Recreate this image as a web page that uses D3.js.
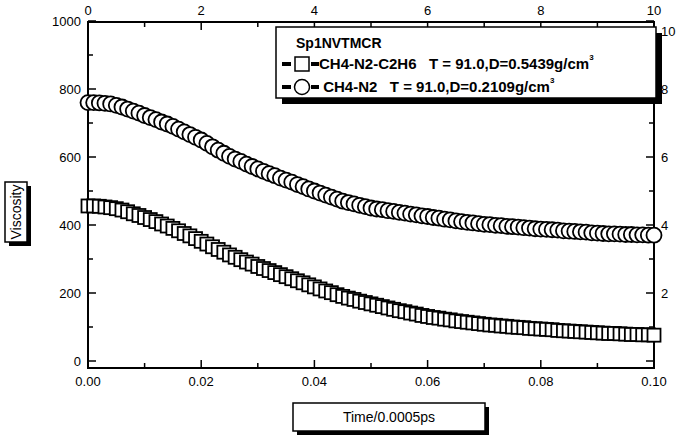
<!DOCTYPE html>
<html><head><meta charset="utf-8">
<script src="https://cdn.jsdelivr.net/npm/d3@7"></script>
<style>body{margin:0;background:#fff}svg{font-family:"Liberation Sans",Arial,sans-serif}</style>
</head><body><svg id="c" width="679" height="441"></svg>
<script>
const circleValues=[760,760,759,758,756,752,747,741,735,729,722,716,710,703,697,690,682,674,666,658,650,640,630,620,611,602,594,587,579,572,565,558,551,545,538,532,526,519,513,506,500,494,488,482,476,470,466,462,458,454,450,447,445,442,440,437,435,432,430,427,425,422,420,417,415,412,410,408,406,404,402,401,399,398,396,395,394,392,391,389,388,387,386,385,383,382,381,380,379,377,376,375,374,374,373,372,372,371,371,370,370];
const squareValues=[456,456,455,453,451,448,444,439,433,428,422,416,410,403,397,390,383,375,368,360,352,344,336,328,320,312,305,298,291,285,278,272,266,260,254,248,242,236,230,224,218,212,206,201,195,190,185,181,176,172,168,164,160,156,152,148,145,141,138,134,131,128,126,123,121,118,116,114,112,110,108,106,105,103,102,100,99,98,96,95,94,93,92,90,89,88,87,86,85,84,83,82,81,81,80,79,78,78,77,77,76];
const bottomTicks=[0,0.02,0.04,0.06,0.08,0.1];
const leftTicks=[0,200,400,600,800,1000];
const topTicks=[0,2,4,6,8,10];
const rightTicks=[2,4,6,8,10];
const legendTitle="Sp1NVTMCR";
const legendRows=[{name:"CH4-N2-C2H6   T = 91.0,D=0.5439g/cm",sym:"square"},{name:" CH4-N2   T = 91.0,D=0.2109g/cm",sym:"circle"}];

const svg=d3.select("#c");
const L=88,R=654,T=22,B=368;
const x=d3.scaleLinear().domain([0,0.1]).range([L,R]);
const y=d3.scaleLinear().domain([0,1000]).range([361,21]);
const xt=d3.scaleLinear().domain([0,10]).range([L,R]);
const yr=d3.scaleLinear().domain([0,10]).range([361,21]);
const times=a=>a.map((v,i)=>[i*0.1/(a.length-1),v]);

svg.append("rect").attr("x",L).attr("y",T).attr("width",R-L).attr("height",B-T).attr("fill","none").attr("stroke","#000").attr("stroke-width",2);
const tk=(x1,y1,x2,y2)=>svg.append("line").attr("x1",x1).attr("y1",y1).attr("x2",x2).attr("y2",y2).attr("stroke","#000").attr("stroke-width",1.5);
d3.range(0,0.1001,0.01).forEach((v,i)=>tk(x(v),B,x(v),B-(i%2?5:8)));
bottomTicks.forEach(v=>svg.append("text").attr("x",x(v)).attr("y",B+18).attr("text-anchor","middle").attr("font-size",13).text(d3.format(".2f")(v)));
d3.range(0,10.01,1).forEach((v,i)=>tk(xt(v),T,xt(v),T+(i%2?5:8)));
topTicks.forEach(v=>svg.append("text").attr("x",xt(v)).attr("y",T-7).attr("text-anchor","middle").attr("font-size",13).text(v));
d3.range(0,1001,100).forEach((v,i)=>tk(L,y(v),L+(i%2?5:8),y(v)));
leftTicks.forEach(v=>svg.append("text").attr("x",L-7).attr("y",y(v)+5).attr("text-anchor","end").attr("font-size",13).text(v));
d3.range(0,10.01,1).forEach((v,i)=>tk(R,yr(v),R-(i%2?5:8),yr(v)));
rightTicks.forEach(v=>svg.append("text").attr("x",R+7).attr("y",yr(v)+5+(v==10?10:0)).attr("font-size",13).text(v));

const sq=svg.append("g");
times(squareValues).forEach(d=>sq.append("rect").attr("x",x(d[0])-6.5).attr("y",y(d[1])-6.5).attr("width",13).attr("height",13).attr("fill","#fff").attr("stroke","#000").attr("stroke-width",1.8));
const ci=svg.append("g");
times(circleValues).forEach(d=>ci.append("circle").attr("cx",x(d[0])).attr("cy",y(d[1])).attr("r",7.5).attr("fill","#fff").attr("stroke","#000").attr("stroke-width",1.8));

const lg=svg.append("g");
lg.append("rect").attr("x",282).attr("y",33).attr("width",380).attr("height",71).attr("fill","#000");
lg.append("rect").attr("x",276).attr("y",27).attr("width",380).attr("height",71).attr("fill","#fff").attr("stroke","#000").attr("stroke-width",1.5);
lg.append("text").attr("x",296).attr("y",48).attr("font-size",14).attr("font-weight","bold").text(legendTitle);
legendRows.forEach((r,i)=>{
  const cy=64+i*23;
  lg.append("rect").attr("x",282).attr("y",cy-2).attr("width",9).attr("height",4).attr("fill","#000");
  lg.append("rect").attr("x",311).attr("y",cy-2).attr("width",8).attr("height",4).attr("fill","#000");
  if(r.sym=="square")lg.append("rect").attr("x",295).attr("y",cy-7).attr("width",14).attr("height",14).attr("fill","#fff").attr("stroke","#000").attr("stroke-width",1.5);
  else lg.append("circle").attr("cx",302).attr("cy",cy).attr("r",7.5).attr("fill","#fff").attr("stroke","#000").attr("stroke-width",1.5);
  const t=lg.append("text").attr("x",319).attr("y",cy+5).attr("font-size",15).attr("font-weight","bold").attr("xml:space","preserve");
  t.append("tspan").text(r.name);
  t.append("tspan").attr("dy",-9).attr("font-size",8).text("3");
});

function box(cx,cy,w,h,txt,rot){
  const g=svg.append("g").attr("transform",`translate(${cx},${cy}) rotate(${rot})`);
  g.append("rect").attr("x",-w/2+(rot?-4:4)).attr("y",-h/2+4).attr("width",w).attr("height",h).attr("fill","#000");
  g.append("rect").attr("x",-w/2).attr("y",-h/2).attr("width",w).attr("height",h).attr("fill","#fff").attr("stroke","#000").attr("stroke-width",1.5);
  g.append("text").attr("x",0).attr("y",5).attr("text-anchor","middle").attr("font-size",14).text(txt);
}
box(389,417,192,28,"Time/0.0005ps",0);
box(16,212,60,22,"Viscosity",-90);
</script></body></html>
